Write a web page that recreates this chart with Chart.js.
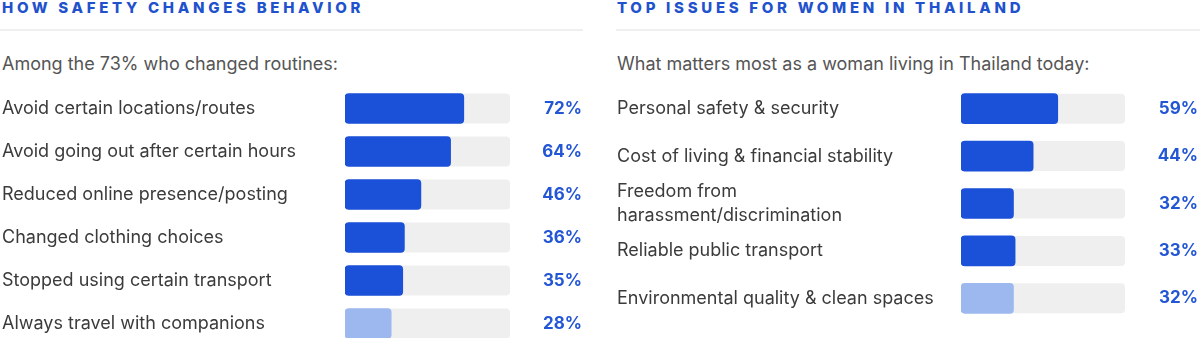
<!DOCTYPE html>
<html>
<head>
<meta charset="utf-8">
<title>Safety &amp; women in Thailand</title>
<script src="https://cdn.jsdelivr.net/npm/chart.js@4.4.1/dist/chart.umd.min.js"></script>
<style>
  html, body { margin: 0; padding: 0; background: #fff; }
  body { position: relative; width: 1200px; height: 338px; overflow: hidden; font-family: Inter, "Noto Sans", sans-serif; }
  .titulo { position: absolute; top: 0; font-size: 15px; line-height: 15px; font-weight: 800; letter-spacing: 3.7px; color: #1f52cc; white-space: nowrap; }
  .regua { position: absolute; top: 29px; height: 2px; background: #efefef; }
  .sub { position: absolute; top: 55px; font-size: 18px; line-height: 18px; color: #555; white-space: nowrap; }
  .grafico { position: absolute; }
</style>
</head>
<body>

<div class="titulo" style="left:2px">HOW SAFETY CHANGES BEHAVIOR</div>
<div class="regua" style="left:0; width:583px"></div>
<div class="sub" style="left:2px">Among the 73% who changed routines:</div>
<div class="grafico" style="left:0; top:87px; width:585px; height:258px"><canvas id="comportamento"></canvas></div>

<div class="titulo" style="left:617px">TOP ISSUES FOR WOMEN IN THAILAND</div>
<div class="regua" style="left:616px; width:584px"></div>
<div class="sub" style="left:617px">What matters most as a woman living in Thailand today:</div>
<div class="grafico" style="left:600px; top:85px; width:600px; height:237px"><canvas id="prioridades"></canvas></div>

<script>
// Mudanças de rotina
const mudancas = [
    'Avoid certain locations/routes',
    'Avoid going out after certain hours',
    'Reduced online presence/posting',
    'Changed clothing choices',
    'Stopped using certain transport',
    'Always travel with companions'
];
const mudancasPct = [72, 64, 46, 36, 35, 28];

// Prioridades das mulheres
const prioridades = [
    'Personal safety & security',
    'Cost of living & financial stability',
    ['Freedom from', 'harassment/discrimination'],
    'Reliable public transport',
    'Environmental quality & clean spaces'
];
const prioridadesPct = [59, 44, 32, 33, 32];

const AZUL = '#1b50d8';
const AZUL_CLARO = '#9db8ef';

// Fundo cinza de cada barra (0 a 100%)
const trilha = {
    id: 'trilha',
    beforeDatasetsDraw(chart) {
        const { ctx, scales: { x } } = chart;
        const inicio = x.getPixelForValue(0);
        const fim = x.getPixelForValue(100);
        ctx.save();
        ctx.fillStyle = '#efefef';
        chart.getDatasetMeta(0).data.forEach(barra => {
            const { y, height } = barra.getProps(['y', 'height'], true);
            ctx.beginPath();
            ctx.roundRect(inicio, y - height / 2, fim - inicio, height, 4);
            ctx.fill();
        });
        ctx.restore();
    }
};

function criarGrafico(id, rotulos, valores, esquerda, larguraRotulos, direita, larguraValores) {
    const ultimo = valores.length - 1;
    return new Chart(document.getElementById(id), {
        type: 'bar',
        data: {
            labels: rotulos,
            datasets: [{
                data: valores,
                backgroundColor: (c) => c.dataIndex === ultimo ? AZUL_CLARO : AZUL,
                borderRadius: 4,
                borderSkipped: false,
                barThickness: 30
            }]
        },
        plugins: [trilha],
        options: {
            indexAxis: 'y',
            responsive: true,
            maintainAspectRatio: false,
            animation: false,
            layout: { padding: { left: esquerda, right: direita, top: 0, bottom: 0 } },
            scales: {
                x: { display: false, min: 0, max: 100 },
                y: {
                    grid: { display: false },
                    border: { display: false },
                    ticks: {
                        autoSkip: false,
                        crossAlign: 'far',
                        color: '#3b3b3b',
                        font: { family: 'Inter', size: 18, lineHeight: 1.35 }
                    },
                    afterFit: (scale) => {
                        scale.width = larguraRotulos;
                        scale.paddingTop = 0;
                        scale.paddingBottom = 0;
                    }
                },
                valor: {
                    type: 'category',
                    position: 'right',
                    offset: true,
                    labels: valores.map(v => `${v}%`),
                    grid: { display: false },
                    border: { display: false },
                    ticks: {
                        autoSkip: false,
                        crossAlign: 'far',
                        color: '#2356d4',
                        font: { family: 'Inter', size: 17, weight: 'bold' }
                    },
                    afterFit: (scale) => {
                        scale.width = larguraValores;
                        scale.paddingTop = 0;
                        scale.paddingBottom = 0;
                    }
                }
            },
            plugins: {
                legend: { display: false },
                tooltip: { enabled: false }
            }
        }
    });
}

criarGrafico('comportamento', mudancas, mudancasPct, 2, 343, 3, 72);
criarGrafico('prioridades', prioridades, prioridadesPct, 17, 344, 2, 73);
</script>
</body>
</html>
